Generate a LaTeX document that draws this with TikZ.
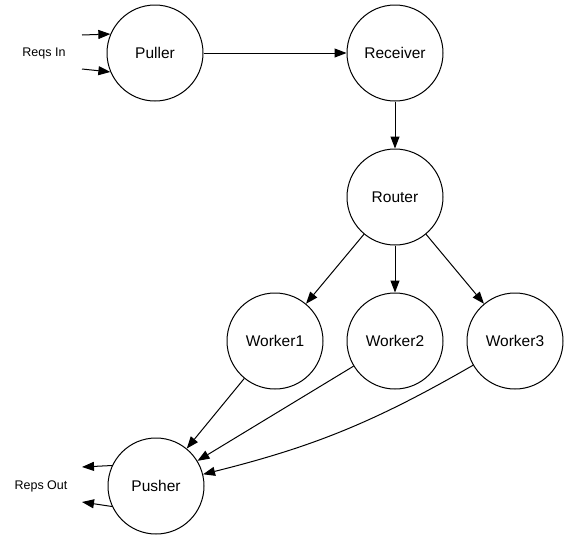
\documentclass[tikz,border=0pt]{standalone}
\usepackage{fontspec}
\setmainfont{Liberation Sans}
\usepackage{tikz}
\usetikzlibrary{shapes,arrows,arrows.meta,positioning}

\begin{document}
\begin{tikzpicture}[x=1pt,y=-1pt]
			\tikzstyle{Actor}	= [draw, circle, minimum size=96pt, inner sep=0pt, line width=1pt, font=\fontsize{15.5}{17}\selectfont]
			\tikzstyle{Tag}		= [font=\fontsize{12.5}{14}\selectfont]
			\tikzstyle{Flow}	= [line width=1pt, -{Triangle[length=12pt,width=9pt]}]
			
			\useasboundingbox (0,0) rectangle (568,539);
			
			\node (puller) at (155,53) [Actor] {Puller};
			\node (recv) at (395,53) [Actor] {Receiver};
			\node (router) at (395,197) [Actor] {Router};
			
			\node (w1) at (275,341) [Actor] {Worker1};
			\node (w2) at (395,341) [Actor] {Worker2};
			\node (w3) at (515,341) [Actor] {Worker3};
			
			\node (pusher) at (156,486) [Actor] {Pusher};
			
			\node (reqs) at (44,53) [Tag] {Reqs In};
			\node (reps) at (41,486) [Tag] {Reps Out};
			
			\coordinate (in1) at (82,35);
			\coordinate (in2) at (82,69);
			\coordinate (out1) at (82,467);
			\coordinate (out2) at (82,502);
			
			\draw [Flow] (in1) to (puller.157);
			\draw [Flow] (in2) to (puller.203);
			\draw [Flow] (puller) to (recv);
			\draw [Flow] (recv) to (router);
			\draw [Flow] (router) to (w1);
			\draw [Flow] (router) to (w2);
			\draw [Flow] (router) to (w3);
			\draw [Flow] (w1) to (pusher);
			\draw [Flow] (w2) to (pusher);
			\draw [Flow] (w3) to [bend left=8] (pusher);
			\draw [Flow] (pusher.155) to (out1);
			\draw [Flow] (pusher.205) to (out2);
		\end{tikzpicture}
\end{document}
